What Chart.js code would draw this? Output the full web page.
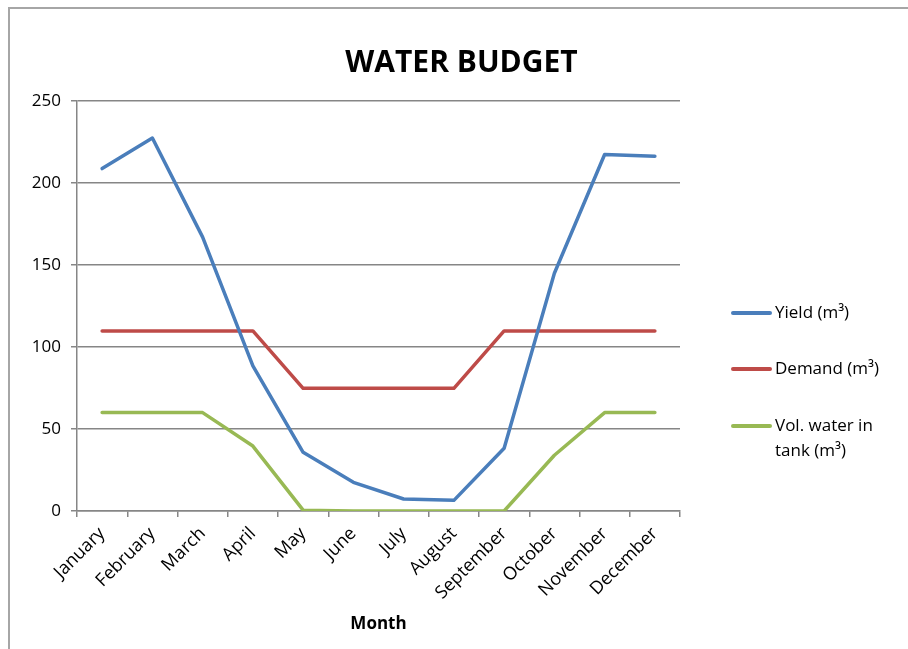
<!DOCTYPE html>
<html>
<head>
<meta charset="utf-8">
<script src="https://cdn.jsdelivr.net/npm/chart.js@4/dist/chart.umd.min.js"></script>
<style>
  html, body { margin: 0; padding: 0; background: #fff; }
  #wrap { width: 908px; height: 649px; position: relative; }
</style>
</head>
<body>
<div id="wrap"><canvas id="c" width="908" height="649"></canvas></div>
<script>
const months = ['January','February','March','April','May','June','July','August','September','October','November','December'];
const yieldVals  = [208.8, 227.4, 167.0, 88.5, 35.8, 17.5, 7.3, 6.5, 38.3, 145.0, 217.4, 216.3];
const demandVals = [109.8, 109.8, 109.8, 109.8, 74.8, 74.8, 74.8, 74.8, 109.8, 109.8, 109.8, 109.8];
const tankVals   = [60.0, 60.0, 60.0, 39.6, 0.5, 0.0, 0.0, 0.0, 0.0, 34.0, 60.0, 60.0];
const seriesNames = ['Yield (m³)', 'Demand (m³)', 'Vol. water in tank (m³)'];
const yTickValues = [0, 50, 100, 150, 200, 250];
const chartTitle = 'WATER BUDGET';
const xAxisTitle = 'Month';

const FONT = "'Open Sans', sans-serif";
const colors = ['#4A7EBB', '#BE4B48', '#98B954'];

const frame = {
  id: 'frame',
  beforeDraw(chart) {
    const ctx = chart.ctx;
    ctx.save();
    ctx.fillStyle = '#fff';
    ctx.fillRect(0, 0, chart.width, chart.height);
    ctx.strokeStyle = '#a6a6a6';
    ctx.lineWidth = 2;
    ctx.beginPath();
    ctx.moveTo(9, chart.height + 5);
    ctx.lineTo(9, 8);
    ctx.lineTo(chart.width + 5, 8);
    ctx.stroke();
    ctx.restore();
  }
};

function wrapText(ctx, text, maxW) {
  const words = text.split(' ');
  const lines = [];
  let cur = '';
  for (const w of words) {
    const t = cur ? cur + ' ' + w : w;
    if (ctx.measureText(t).width > maxW && cur) { lines.push(cur); cur = w; }
    else cur = t;
  }
  if (cur) lines.push(cur);
  return lines;
}

const sideLegend = {
  id: 'sideLegend',
  afterDraw(chart) {
    const ctx = chart.ctx;
    const ys = [313, 369, 426];
    ctx.save();
    ctx.font = "17px " + FONT;
    ctx.textBaseline = 'middle';
    ctx.textAlign = 'left';
    chart.data.datasets.forEach((ds, i) => {
      const y = ys[i];
      ctx.strokeStyle = ds.borderColor;
      ctx.lineWidth = 4;
      ctx.lineCap = 'round';
      ctx.beginPath();
      ctx.moveTo(733, y);
      ctx.lineTo(770, y);
      ctx.stroke();
      ctx.fillStyle = '#000';
      const lines = wrapText(ctx, ds.label, 120);
      lines.forEach((ln, k) => ctx.fillText(ln, 775, y + k * 25));
    });
    ctx.restore();
  }
};

new Chart(document.getElementById('c'), {
  type: 'line',
  data: {
    labels: months,
    datasets: [yieldVals, demandVals, tankVals].map((d, i) => ({
      label: seriesNames[i],
      data: d,
      borderColor: colors[i],
      backgroundColor: colors[i],
      borderWidth: 3.5,
      pointRadius: 0,
      tension: 0,
      borderJoinStyle: 'round',
      borderCapStyle: 'round',
      fill: false
    }))
  },
  options: {
    responsive: false,
    devicePixelRatio: 1,
    animation: false,
    layout: { padding: { left: 15, right: 0, top: 0, bottom: 0 } },
    plugins: {
      legend: { display: false },
      tooltip: { enabled: false },
      title: {
        display: true,
        text: chartTitle,
        color: '#000',
        font: { family: FONT, size: 30, weight: 'bold', lineHeight: 1.2 },
        padding: { top: 45, bottom: 20 }
      }
    },
    scales: {
      x: {
        offset: true,
        grid: { offset: true, drawOnChartArea: false, color: '#868686', tickLength: 6, lineWidth: 1.5 },
        border: { color: '#868686', width: 1.5 },
        ticks: { color: '#000', font: { family: FONT, size: 18 }, minRotation: 45, maxRotation: 45, padding: 6 },
        title: { display: true, text: xAxisTitle, color: '#000', font: { family: FONT, size: 17, weight: 'bold' }, padding: { top: 0, bottom: 15 } },
        afterFit(s) { s.height = 138; }
      },
      y: {
        min: 0, max: 250,
        afterBuildTicks(s) { s.ticks = yTickValues.map(v => ({ value: v })); },
        grid: { color: '#868686', tickLength: 6, lineWidth: 1.5 },
        border: { color: '#868686', width: 1.5 },
        ticks: { color: '#000', font: { family: FONT, size: 17 }, padding: 10 },
        afterFit(s) { s.width = 62; }
      },
      spacer: {
        position: 'right',
        display: true,
        grid: { display: false },
        border: { display: false },
        ticks: { display: false },
        afterFit(s) { s.width = 228; }
      }
    }
  },
  plugins: [frame, sideLegend]
});
</script>
</body>
</html>
